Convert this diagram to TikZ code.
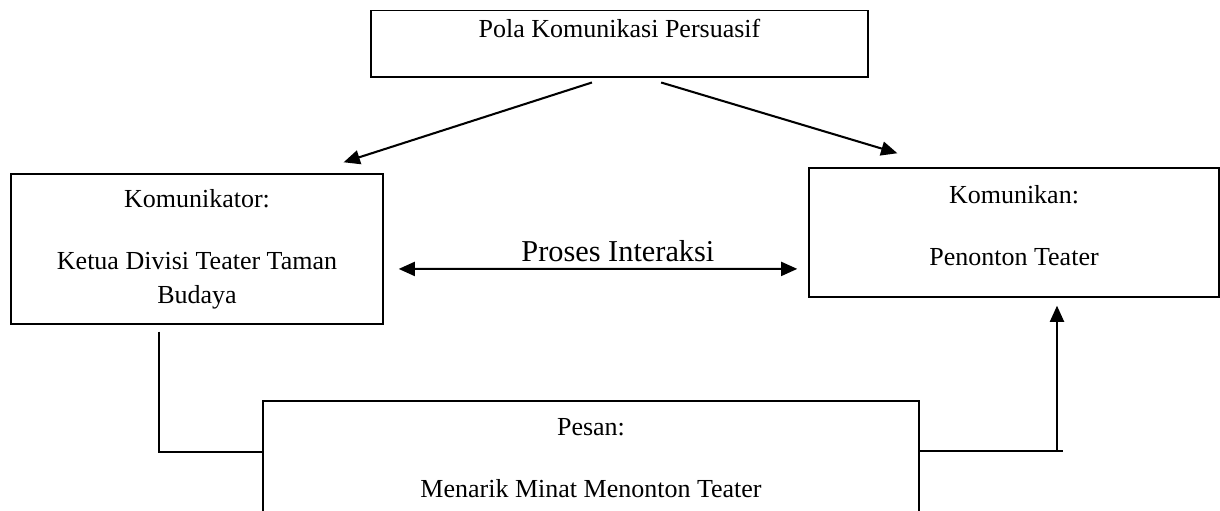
\documentclass[tikz,border=0pt]{standalone}
\usepackage{fontspec}
\setmainfont{Liberation Serif}
\usetikzlibrary{arrows.meta,calc}
\tikzset{
  kotak/.style={draw, line width=0.65pt, align=center, inner sep=0pt,
    minimum width=#1, font=\fontsize{12}{15.7}\selectfont},
  arr/.style={-{Triangle[length=7.5pt,width=6.5pt]}, line width=0.95pt},
  dblarr/.style={{Triangle[length=7.5pt,width=6.5pt]}-{Triangle[length=7.5pt,width=6.5pt]}, line width=0.95pt},
  garis/.style={line width=0.65pt}
}
\begin{document}
\begin{tikzpicture}[x=0.4615pt,y=-0.4615pt]
  % page frame, the lower and right boxes run past it
  \useasboundingbox (0,0) rectangle (1220,510);
  \clip (0,0) rectangle (1220,510);

  \node[kotak=229.4pt, anchor=north, text height=12.5pt, text depth=18pt] (pola) at (619.5,10) {Pola Komunikasi Persuasif};
  \node[kotak=171.7pt, minimum height=69.2pt] (komunikator) at (197,249) {Komunikator:\\[12.9pt]Ketua Divisi Teater Taman\\Budaya};
  \node[kotak=189.2pt, minimum height=59.5pt] (komunikan) at (1014,232.5) {Komunikan:\\[12.9pt]Penonton Teater\\[-9.3pt]\mbox{}};
  \node[kotak=302.7pt, minimum height=53.1pt] (pesan) at (591,458.5) {Pesan:\\[12.9pt]Menarik Minat Menonton Teater};

  % top box down to both sides
  \draw[arr] ([xshift=-12.7pt,yshift=-2.3pt]pola.south) -- ([xshift=-18.5pt,yshift=5.1pt]komunikator.north east);
  \draw[arr] ([xshift=19.2pt,yshift=-2.3pt]pola.south) -- ([xshift=41.1pt,yshift=6.5pt]komunikan.north west);

  \draw[dblarr] ([xshift=6.9pt,yshift=-9.2pt]komunikator.east) --
    node[above, inner sep=3pt, xshift=9.2pt, font=\fontsize{14}{16}\selectfont] (proses) {Proses Interaksi}
    ([xshift=-5.1pt,yshift=-16.8pt]komunikan.west);

  % message path
  \coordinate (sikukiri) at (159,452);
  \coordinate (sikukanan) at (1057,451);
  \draw[garis] ($(sikukiri |- komunikator.south)+(0,-3.2pt)$) -- (sikukiri) -- (sikukiri -| pesan.west);
  \draw[garis] (sikukanan -| pesan.east) -- ($(sikukanan)+(2.8pt,0)$);
  \draw[arr] (sikukanan) -- ($(sikukanan |- komunikan.south)+(0,-3.7pt)$);
\end{tikzpicture}
\end{document}
